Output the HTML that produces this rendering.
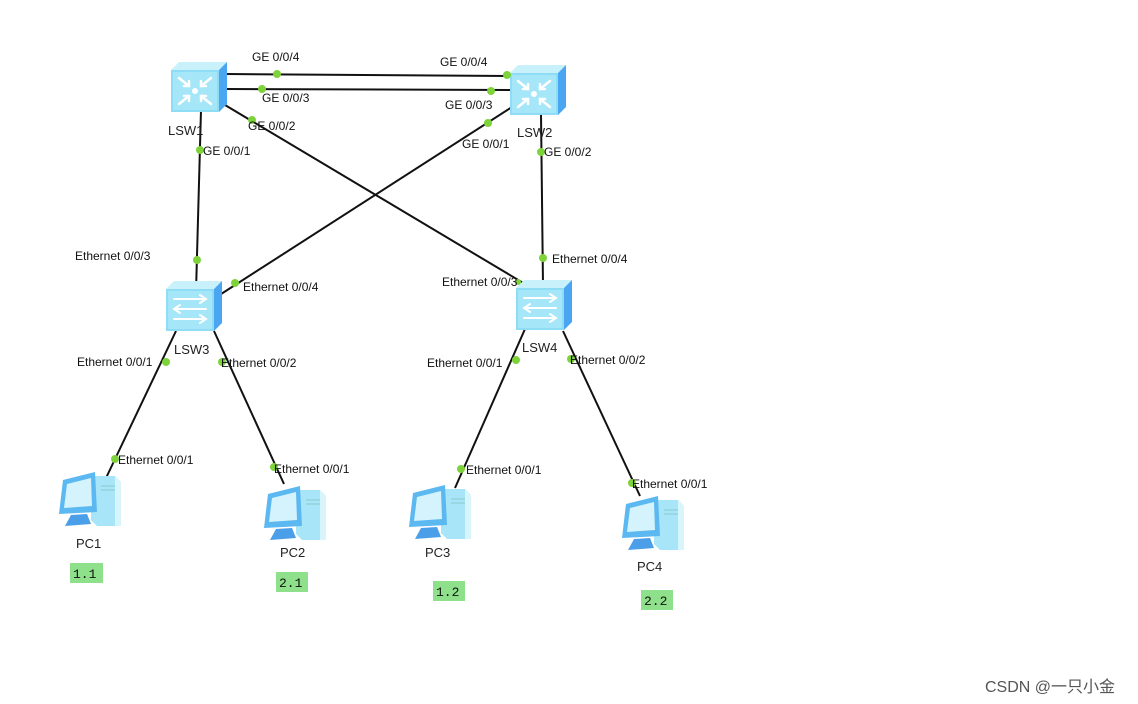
<!DOCTYPE html>
<html><head><meta charset="utf-8"><style>
html,body{margin:0;padding:0;background:#fff;}
svg{display:block;}
text{font-family:"Liberation Sans",Arial,sans-serif;font-size:12px;fill:#111;}
.n{font-size:13px;fill:#222;}
.ip{font-family:"Liberation Mono",monospace;font-size:13px;fill:#111;}
</style></head><body>
<svg width="1138" height="704" viewBox="0 0 1138 704" xmlns="http://www.w3.org/2000/svg">
<defs>
<g id="swbase">
<polygon points="0,8 8,0 56,0 48,8" fill="#c9f1fb"/>
<polygon points="48,8 56,0 56,42 48,50" fill="#4aa6f0"/>
<rect x="0" y="8" width="48" height="42" fill="#8fdcf5"/>
<rect x="2" y="10" width="44" height="38" fill="#a5e6f8"/>
</g>
<g id="sw1">
<use href="#swbase"/>
<g stroke="#fff" stroke-width="2.5" fill="none" stroke-linecap="round">
<path d="M8,16 L18,24 M8,42 L18,34 M40,16 L30,24 M40,42 L30,34"/>
<path d="M18,19 V24 H13 M18,39 V34 H13 M30,19 V24 H35 M30,39 V34 H35"/>
</g>
<circle cx="24" cy="29" r="3" fill="#fff"/>
</g>
<g id="sw3">
<use href="#swbase"/>
<g stroke="#fff" stroke-width="2" fill="none" stroke-linecap="round">
<path d="M8,18 H40 M34,14 L40,18 L34,22"/>
<path d="M40,28 H8 M14,24 L8,28 L14,32"/>
<path d="M8,38 H40 M34,34 L40,38 L34,42"/>
</g>
</g>
<g id="pc">
<polygon points="34,8 58,8 64,14 64,58 40,58 34,52" fill="#a9e5f8"/>
<polygon points="58,8 64,14 64,58 58,58" fill="#d9f5fc"/>
<line x1="44" y1="18" x2="58" y2="18" stroke="#8cc" stroke-width="1"/>
<line x1="44" y1="22" x2="58" y2="22" stroke="#8cc" stroke-width="1"/>
<polygon points="6,12 38,4 40,44 2,46" fill="#5cb8f0"/>
<polygon points="10,16 34,10 35,38 7,40" fill="#d4f3fc"/>
<polygon points="14,47 30,46 34,56 8,58" fill="#4a9fe8"/>
</g>
</defs>

<g stroke="#111" stroke-width="2" fill="none">
<line x1="226" y1="74" x2="512" y2="76"/>
<line x1="226" y1="89" x2="512" y2="90"/>
<line x1="201" y1="110" x2="196" y2="292"/>
<line x1="225" y1="105" x2="530" y2="287"/>
<line x1="512" y1="107" x2="218" y2="296"/>
<line x1="541" y1="114" x2="543" y2="285"/>
<line x1="176" y1="331" x2="106" y2="478"/>
<line x1="214" y1="331" x2="284" y2="484"/>
<line x1="525" y1="329" x2="455" y2="488"/>
<line x1="563" y1="331" x2="640" y2="496"/>
</g>

<use href="#sw1" x="171" y="62"/>
<use href="#sw1" x="510" y="65"/>
<use href="#sw3" x="166" y="281"/>
<use href="#sw3" x="516" y="280"/>
<use href="#pc" x="57" y="468"/>
<use href="#pc" x="262" y="482"/>
<use href="#pc" x="407" y="481"/>
<use href="#pc" x="620" y="492"/>

<g fill="#7ed23a">
<circle cx="277" cy="74" r="4"/><circle cx="507" cy="75" r="4"/>
<circle cx="262" cy="89" r="4"/><circle cx="491" cy="91" r="4"/>
<circle cx="200" cy="150" r="4"/><circle cx="197" cy="260" r="4"/>
<circle cx="252" cy="120" r="4"/><circle cx="518" cy="282" r="3"/>
<circle cx="488" cy="123" r="4"/><circle cx="235" cy="283" r="4"/>
<circle cx="541" cy="152" r="4"/><circle cx="543" cy="258" r="4"/>
<circle cx="166" cy="362" r="4"/><circle cx="115" cy="459" r="4"/>
<circle cx="222" cy="362" r="4"/><circle cx="274" cy="467" r="4"/>
<circle cx="516" cy="360" r="4"/><circle cx="461" cy="469" r="4"/>
<circle cx="571" cy="359" r="4"/><circle cx="632" cy="483" r="4"/>
</g>

<text x="252" y="61">GE 0/0/4</text>
<text x="440" y="66">GE 0/0/4</text>
<text x="262" y="102">GE 0/0/3</text>
<text x="445" y="109">GE 0/0/3</text>
<text x="248" y="130">GE 0/0/2</text>
<text x="203" y="155">GE 0/0/1</text>
<text x="462" y="148">GE 0/0/1</text>
<text x="544" y="156">GE 0/0/2</text>
<text x="75" y="260">Ethernet 0/0/3</text>
<text x="243" y="291">Ethernet 0/0/4</text>
<text x="442" y="286">Ethernet 0/0/3</text>
<text x="552" y="263">Ethernet 0/0/4</text>
<text x="77" y="366">Ethernet 0/0/1</text>
<text x="221" y="367">Ethernet 0/0/2</text>
<text x="427" y="367">Ethernet 0/0/1</text>
<text x="570" y="364">Ethernet 0/0/2</text>
<text x="118" y="464">Ethernet 0/0/1</text>
<text x="274" y="473">Ethernet 0/0/1</text>
<text x="466" y="474">Ethernet 0/0/1</text>
<text x="632" y="488">Ethernet 0/0/1</text>

<text class="n" x="168" y="135">LSW1</text>
<text class="n" x="517" y="137">LSW2</text>
<text class="n" x="174" y="354">LSW3</text>
<text class="n" x="522" y="352">LSW4</text>
<text class="n" x="76" y="548">PC1</text>
<text class="n" x="280" y="557">PC2</text>
<text class="n" x="425" y="557">PC3</text>
<text class="n" x="637" y="571">PC4</text>

<rect x="70" y="563" width="33" height="20" fill="#8ee08a"/>
<text class="ip" x="73" y="578">1.1</text>
<rect x="276" y="572" width="32" height="20" fill="#8ee08a"/>
<text class="ip" x="279" y="587">2.1</text>
<rect x="433" y="581" width="32" height="20" fill="#8ee08a"/>
<text class="ip" x="436" y="596">1.2</text>
<rect x="641" y="590" width="32" height="20" fill="#8ee08a"/>
<text class="ip" x="644" y="605">2.2</text>

<text x="985" y="692" style="font-family:'Liberation Sans','Noto Sans CJK SC',sans-serif;font-size:16px;fill:#555;">CSDN @一只小金</text>
</svg>
</body></html>
